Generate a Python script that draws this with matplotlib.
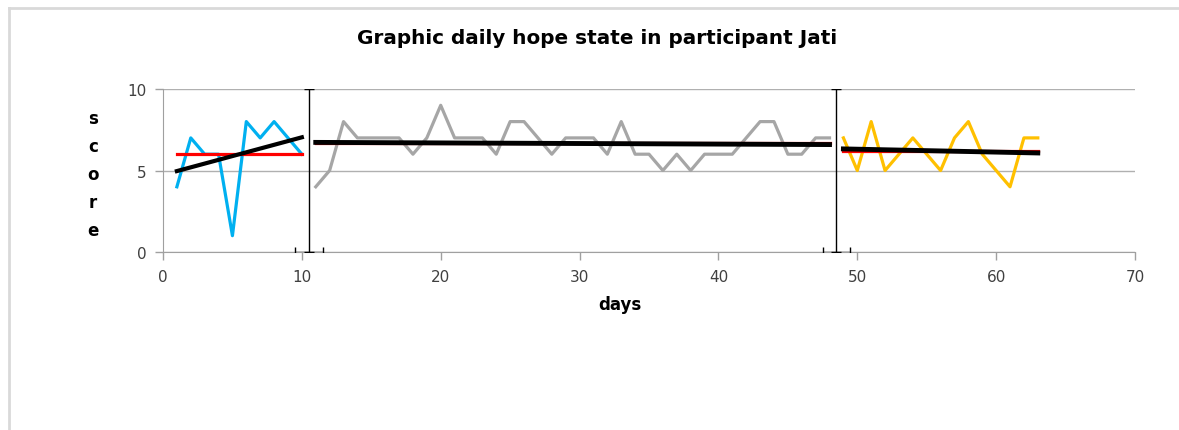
import matplotlib.pyplot as plt
from matplotlib.lines import Line2D
import numpy as np

# daily hope scores per phase
baseline_days = list(range(1, 11))
baseline_scores = [4, 7, 6, 6, 1, 8, 7, 8, 7, 6]

intervention_days = list(range(11, 49))
intervention_scores = [4, 5, 8, 7, 7, 7, 7, 6, 7, 9,
                       7, 7, 7, 6, 8, 8, 7, 6, 7, 7,
                       7, 6, 8, 6, 6, 5, 6, 5, 6, 6,
                       6, 7, 8, 8, 6, 6, 7, 7]

followup_days = list(range(49, 64))
followup_scores = [7, 5, 8, 5, 6, 7, 6, 5, 7, 8, 6, 5, 4, 7, 7]

phase_changes = [10.5, 48.5]

title = 'Graphic daily hope state in participant Jati'
font = 'DejaVu Sans'

fig = plt.figure(figsize=(11.79, 4.31), dpi=100)
ax = fig.add_axes([163 / 1179, 1 - 253 / 431, 972 / 1179, 163 / 431])

phases = [
    (baseline_days, baseline_scores, '#00B0F0', 3.0),
    (intervention_days, intervention_scores, '#A6A6A6', 3.5),
    (followup_days, followup_scores, '#FFC000', 3.5),
]

for days, scores, color, trend_w in phases:
    d = np.array(days)
    s = np.array(scores)
    ax.plot(d, s, color=color, lw=2.3, zorder=3)
    # phase mean
    ax.plot([d[0], d[-1]], [s.mean(), s.mean()], color='#FF0000', lw=2.3, zorder=4)
    # linear trend
    k, b = np.polyfit(d, s, 1)
    ax.plot([d[0], d[-1]], [k * d[0] + b, k * d[-1] + b], color='black',
            lw=trend_w, zorder=5)

# phase change lines (drawn like excel error bars)
ax.errorbar(phase_changes, [0, 0], xerr=1, yerr=[[0, 0], [10, 10]],
            fmt='none', ecolor='black', elinewidth=1, capsize=3.6,
            capthick=1, zorder=6)

ax.set_xlim(0, 70)
ax.set_ylim(0, 10)
ax.set_xticks(range(0, 71, 10))
ax.set_yticks([0, 5, 10])
ax.yaxis.grid(True, color='#B0B0B0', lw=1)
ax.set_axisbelow(True)
for side in ['top', 'right']:
    ax.spines[side].set_visible(False)
for side in ['left', 'bottom']:
    ax.spines[side].set_color('#A0A0A0')
ax.tick_params(axis='both', colors='#A0A0A0', length=6, width=1,
               labelcolor='#404040', labelsize=11, pad=6)
for lab in ax.get_xticklabels() + ax.get_yticklabels():
    lab.set_fontfamily(font)

fig.text(597 / 1179, 1 - 38 / 431, title, ha='center', va='center',
         fontsize=14.4, fontweight='bold', family=font)
fig.text(620 / 1179, 1 - 305 / 431, 'days', ha='center', va='center',
         fontsize=12, fontweight='bold', family=font)
for i, ch in enumerate('score'):
    fig.text(93 / 1179, 1 - (119 + 28 * i) / 431, ch, ha='center', va='center',
             fontsize=12, fontweight='bold', family=font)

# chart frame
fig.add_artist(Line2D([9 / 1179, 1], [1 - 9 / 431, 1 - 9 / 431],
                      transform=fig.transFigure, color='#D9D9D9', lw=2))
fig.add_artist(Line2D([9 / 1179, 9 / 1179], [0, 1 - 9 / 431],
                      transform=fig.transFigure, color='#D9D9D9', lw=2))

fig.savefig('out.png', dpi=100)
